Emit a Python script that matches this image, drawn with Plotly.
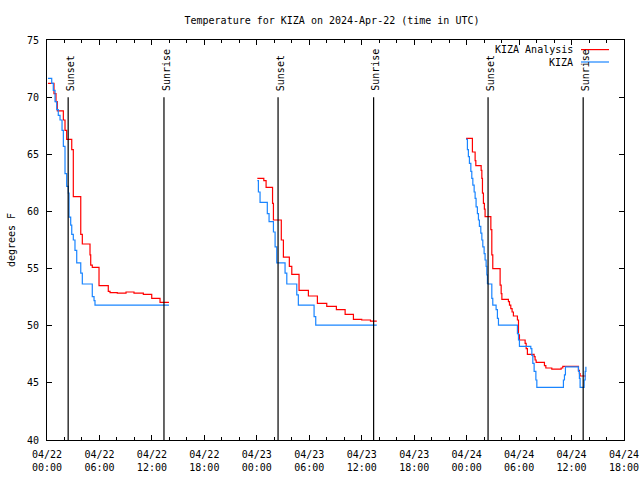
import datetime as dt
import plotly.graph_objects as go

BASE = dt.datetime(2024, 4, 22, 0, 0)

# ---- data (hours since 2024-04-22 00:00 UTC, temperature in deg F); None = gap ----
analysis_hours = [
    0.11, 0.80, 1.03, 1.18, 1.87, 2.06, 2.25, 2.83, 3.01, 3.86, 4.04, 4.92, 5.00, 5.18,
    5.95, 7.01, 7.21, 8.04, 9.04, 9.95, 11.02, 11.98, 12.93, 13.95,
    None,
    24.06, 24.80, 25.06, 25.80, 25.90, 26.80, 27.04, 27.72, 28.00, 28.83, 29.90, 30.93,
    32.00, 33.10, 34.10, 35.05, 36.00, 37.00, 37.72,
    None,
    47.94, 48.66, 48.97, 49.05, 49.66, 49.74, 49.81, 49.92, 50.03, 50.11, 50.77, 50.88,
    50.99, 51.83, 51.95, 52.03, 52.78, 52.90, 53.05, 53.20, 53.35, 53.81, 53.93, 54.04,
    54.69, 54.81, 54.95, 55.72, 55.83, 55.95, 56.90, 57.06, 57.74, 58.81, 59.00, 60.79,
    60.90, 60.98, 61.64,
]
analysis_temp = [
    71.2, 70.3, 69.6, 68.8, 68.0, 67.1, 66.3, 65.4, 61.3, 58.0, 57.15, 56.2, 55.3, 55.1,
    53.5, 53.0, 52.9, 52.85, 52.95, 52.85, 52.75, 52.4, 52.05, 52.05,
    None,
    62.9, 62.7, 62.1, 60.7, 59.25, 57.5, 56.0, 55.2, 54.5, 53.1, 52.6, 51.95,
    51.7, 51.4, 51.0, 50.55, 50.5, 50.4, 50.4,
    None,
    66.4, 65.2, 64.45, 64.0, 63.6, 62.9, 61.6, 60.7, 60.2, 59.55, 58.4, 56.2,
    55.0, 53.55, 52.8, 52.3, 52.1, 51.8, 51.5, 51.2, 50.85, 50.5, 49.2, 48.75,
    48.45, 48.0, 47.5, 47.3, 47.0, 46.8, 46.5, 46.3, 46.2, 46.3, 46.45, 46.1,
    45.8, 45.6, 45.6,
]

obs_hours = [
    0.11, 0.54, 0.72, 0.92, 1.11, 1.29, 1.49, 1.72, 1.87, 2.06, 2.25, 2.44, 2.52, 2.71,
    2.83, 3.01, 3.20, 3.40, 3.86, 4.04, 5.18, 5.38, 5.49, 13.95,
    None,
    24.06, 24.18, 24.37, 25.20, 25.40, 25.90, 26.09, 26.28, 27.23, 27.43, 28.57, 28.75,
    30.55, 30.74, 37.72,
    None,
    47.94, 48.09, 48.20, 48.32, 48.48, 48.59, 48.71, 48.86, 48.97, 49.08, 49.23, 49.35,
    49.46, 49.62, 49.74, 49.85, 50.00, 50.11, 50.23, 50.31, 50.38, 50.43, 50.88, 50.99,
    51.37, 51.52, 51.64, 53.81, 53.93, 54.04, 55.34, 55.46, 55.57, 55.72, 55.92, 56.03,
    59.07, 59.19, 59.30, 60.79, 60.90, 60.98, 61.44, 61.56, 61.64,
]
obs_temp = [
    71.65, 71.2, 70.6, 69.6, 68.9, 68.4, 68.0, 67.1, 65.7, 63.3, 62.2, 61.6, 59.5, 58.8,
    58.0, 57.5, 56.6, 55.5, 54.6, 53.65, 52.55, 52.2, 51.8, 51.8,
    None,
    62.7, 61.7, 60.8, 59.8, 59.1, 58.2, 56.9, 55.5, 54.6, 53.65, 52.7, 51.8,
    50.8, 50.05, 50.05,
    None,
    66.3, 65.4, 64.8, 64.2, 63.5, 62.9, 62.3, 61.7, 61.15, 60.4, 59.8, 59.25,
    58.7, 58.1, 57.5, 56.9, 56.3, 55.75, 55.2, 54.45, 53.7, 53.65, 52.4, 51.8,
    51.4, 50.65, 50.05, 49.3, 48.75, 48.2, 48.0, 47.4, 46.7, 46.0, 45.25, 44.6,
    45.25, 45.7, 46.4, 46.0, 45.4, 44.6, 45.25, 46.0, 46.4,
]

sunset_hours = [2.42, 26.43, 50.45]
sunrise_hours = [13.38, 37.36, 61.33]

tick_hours = [0, 6, 12, 18, 24, 30, 36, 42, 48, 54, 60, 66]
tick_labels = [
    "04/22<br>00:00", "04/22<br>06:00", "04/22<br>12:00", "04/22<br>18:00",
    "04/23<br>00:00", "04/23<br>06:00", "04/23<br>12:00", "04/23<br>18:00",
    "04/24<br>00:00", "04/24<br>06:00", "04/24<br>12:00", "04/24<br>18:00",
]
y_ticks = [40, 45, 50, 55, 60, 65, 70, 75]


def to_time(h):
    return None if h is None else BASE + dt.timedelta(hours=h)


FONT = "DejaVu Sans Mono"
RED = "#ff0000"
BLUE = "#1a85ff"

fig = go.Figure()
fig.add_trace(go.Scatter(
    x=[to_time(h) for h in analysis_hours], y=analysis_temp, mode="lines",
    line=dict(color=RED, width=1.2, shape="hv"), name="KIZA Analysis",
    connectgaps=False, showlegend=False))
fig.add_trace(go.Scatter(
    x=[to_time(h) for h in obs_hours], y=obs_temp, mode="lines",
    line=dict(color=BLUE, width=1.2, shape="hv"), name="KIZA",
    connectgaps=False, showlegend=False))

shapes = []
annotations = []
for hours, label in ((sunset_hours, "Sunset"), (sunrise_hours, "Sunrise")):
    for h in hours:
        t = to_time(h)
        shapes.append(dict(type="line", xref="x", yref="y", x0=t, x1=t, y0=40, y1=70,
                           line=dict(color="black", width=1.2)))
        annotations.append(dict(x=t, y=70, xref="x", yref="y", text=label, showarrow=False,
                                textangle=-90, xanchor="center", yanchor="bottom",
                                xshift=2, yshift=4,
                                font=dict(family=FONT, size=10, color="black")))

# legend drawn gnuplot-style: text right-aligned, line sample to the right
legend_items = [("KIZA Analysis", RED, 0.976), ("KIZA", BLUE, 0.945)]
for text, color, yp in legend_items:
    annotations.append(dict(x=0.915, y=yp, xref="paper", yref="paper", text=text,
                            showarrow=False, xanchor="right", yanchor="middle",
                            font=dict(family=FONT, size=10, color="black")))
    shapes.append(dict(type="line", xref="paper", yref="paper", x0=0.9255, x1=0.974,
                       y0=yp, y1=yp, line=dict(color=color, width=1.2)))

fig.update_layout(
    width=640, height=480,
    margin=dict(l=47, r=16, t=40, b=40, autoexpand=False),
    paper_bgcolor="white", plot_bgcolor="white",
    font=dict(family=FONT, size=10, color="black"),
    title=dict(text="Temperature for KIZA on 2024-Apr-22 (time in UTC)",
               x=332 / 640, xref="container", xanchor="center",
               y=1 - 20 / 480, yref="container", yanchor="middle",
               font=dict(family=FONT, size=10, color="black")),
    shapes=shapes, annotations=annotations,
    showlegend=False,
)
fig.update_xaxes(
    type="date", automargin=False,
    range=[to_time(0), to_time(66)],
    tickmode="array",
    tickvals=[to_time(h) for h in tick_hours], ticktext=tick_labels,
    ticks="inside", ticklen=5, tickcolor="black", tickwidth=1,
    minor=dict(ticks="inside", ticklen=3, dtick=2 * 3600 * 1000, tickcolor="black",
               showgrid=False),
    showline=True, linecolor="black", linewidth=1, mirror="allticks",
    showgrid=False, zeroline=False, ticklabelstandoff=5,
    tickfont=dict(family=FONT, size=10, color="black"),
)
fig.update_yaxes(
    automargin=False,
    range=[40, 75], tickmode="array", tickvals=y_ticks,
    ticks="inside", ticklen=5, tickcolor="black", tickwidth=1,
    showline=True, linecolor="black", linewidth=1, mirror="allticks",
    showgrid=False, zeroline=False, ticklabelstandoff=5,
    title=dict(text="degrees F", standoff=9, font=dict(family=FONT, size=10, color="black")),
    tickfont=dict(family=FONT, size=10, color="black"),
)

fig.write_html("out.html", config={"displayModeBar": False},
               post_script="document.body.style.margin='0px';")
